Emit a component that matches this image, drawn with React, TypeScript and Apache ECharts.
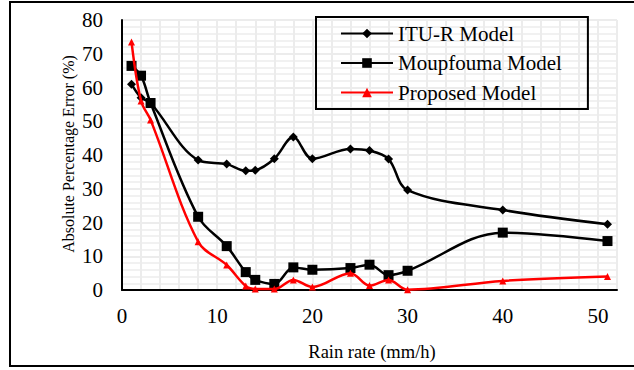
import React, { useEffect, useRef } from "react";
import * as echarts from "echarts";

const rainRate = [1, 2, 3, 8, 11, 13, 14, 16, 18, 20, 24, 26, 28, 30, 40, 51];
const ituR = [61, 57, 55.4, 38.5, 37.3, 35.3, 35.5, 38.9, 45.3, 38.9, 41.8, 41.3, 38.8, 29.6, 23.7, 19.5];
const moupfouma = [66.4, 63.5, 55.4, 21.7, 13.0, 5.3, 3.0, 1.8, 6.7, 6.0, 6.5, 7.5, 4.4, 5.7, 17.0, 14.5];
const proposed = [73.5, 56, 50.4, 14.3, 7.4, 1.2, 0.3, 0.3, 3.0, 0.9, 5.0, 1.3, 3.0, 0.1, 2.7, 4.0];

const seriesNames = ["ITU-R Model", "Moupfouma Model", "Proposed Model"];
const font = "Times New Roman, Liberation Serif, serif";

const pairs = (ys: number[]) => rainRate.map((x, i) => [x, ys[i]]);

export default function App() {
  const ref = useRef<HTMLDivElement>(null);
  useEffect(() => {
    if (!ref.current) return;
    const chart = echarts.init(ref.current, null, { renderer: "svg" });
    const lineCommon = { type: "line" as const, smooth: 0.35, showSymbol: true };
    chart.setOption({
      animation: false,
      backgroundColor: "#ffffff",
      textStyle: { fontFamily: font },
      grid: { left: 122, right: 17, top: 20, bottom: 80 },
      legend: {
        orient: "vertical",
        left: 316,
        top: 17,
        padding: [6, 26, 6, 24],
        borderColor: "#000",
        borderWidth: 2,
        itemWidth: 52,
        itemHeight: 12,
        itemGap: 8.5,
        textStyle: { fontFamily: font, fontSize: 21, color: "#000" },
        data: seriesNames,
      },
      xAxis: {
        type: "value",
        min: 0,
        max: 52,
        interval: 10,
        axisLine: { show: true, onZero: false, lineStyle: { color: "#000", width: 2 } },
        axisTick: { show: false },
        axisLabel: { fontFamily: font, fontSize: 21, color: "#000", margin: 15, showMaxLabel: false },
        splitLine: { show: true, lineStyle: { color: "#ececec", width: 2 } },
        minorTick: { show: false, splitNumber: 5 },
        minorSplitLine: { show: true, lineStyle: { color: "#ececec", width: 2 } },
      },
      yAxis: {
        type: "value",
        min: 0,
        max: 80,
        interval: 10,
        axisLine: { show: true, lineStyle: { color: "#000", width: 2 } },
        axisTick: { show: false },
        axisLabel: { fontFamily: font, fontSize: 21, color: "#000", margin: 19 },
        splitLine: { show: true, lineStyle: { color: "#ececec", width: 2 } },
        minorTick: { show: false, splitNumber: 5 },
        minorSplitLine: { show: true, lineStyle: { color: "#ececec", width: 1.5 } },
      },
      graphic: [
        {
          type: "rect",
          shape: { x: 10, y: 2, width: 640, height: 364 },
          style: { fill: "none", stroke: "#000", lineWidth: 2 },
          silent: true,
        },
        {
          type: "text",
          x: 68,
          y: 154,
          rotation: Math.PI / 2,
          style: {
            text: "Absolute Percentage Error (%)",
            fontFamily: font,
            fontSize: 16,
            fill: "#000",
            align: "center",
            verticalAlign: "middle",
          },
        },
        {
          type: "text",
          x: 372,
          y: 352,
          style: {
            text: "Rain rate (mm/h)",
            fontFamily: font,
            fontSize: 18.5,
            fill: "#000",
            align: "center",
            verticalAlign: "middle",
          },
        },
      ],
      series: [
        {
          ...lineCommon,
          name: seriesNames[0],
          data: pairs(ituR),
          symbol: "diamond",
          symbolSize: 9,
          itemStyle: { color: "#000" },
          lineStyle: { color: "#000", width: 2.5 },
          z: 3,
        },
        {
          ...lineCommon,
          name: seriesNames[1],
          data: pairs(moupfouma),
          symbol: "rect",
          symbolSize: 10,
          itemStyle: { color: "#000" },
          lineStyle: { color: "#000", width: 2.5 },
          z: 2,
        },
        {
          ...lineCommon,
          name: seriesNames[2],
          data: pairs(proposed),
          symbol: "triangle",
          symbolSize: 7,
          itemStyle: { color: "#ff0000" },
          lineStyle: { color: "#ff0000", width: 2.5 },
          z: 4,
        },
      ],
    });
    return () => chart.dispose();
  }, []);
  return (
    <div
      ref={ref}
      style={{ position: "absolute", left: 0, top: 0, width: 634, height: 370 }}
    />
  );
}
